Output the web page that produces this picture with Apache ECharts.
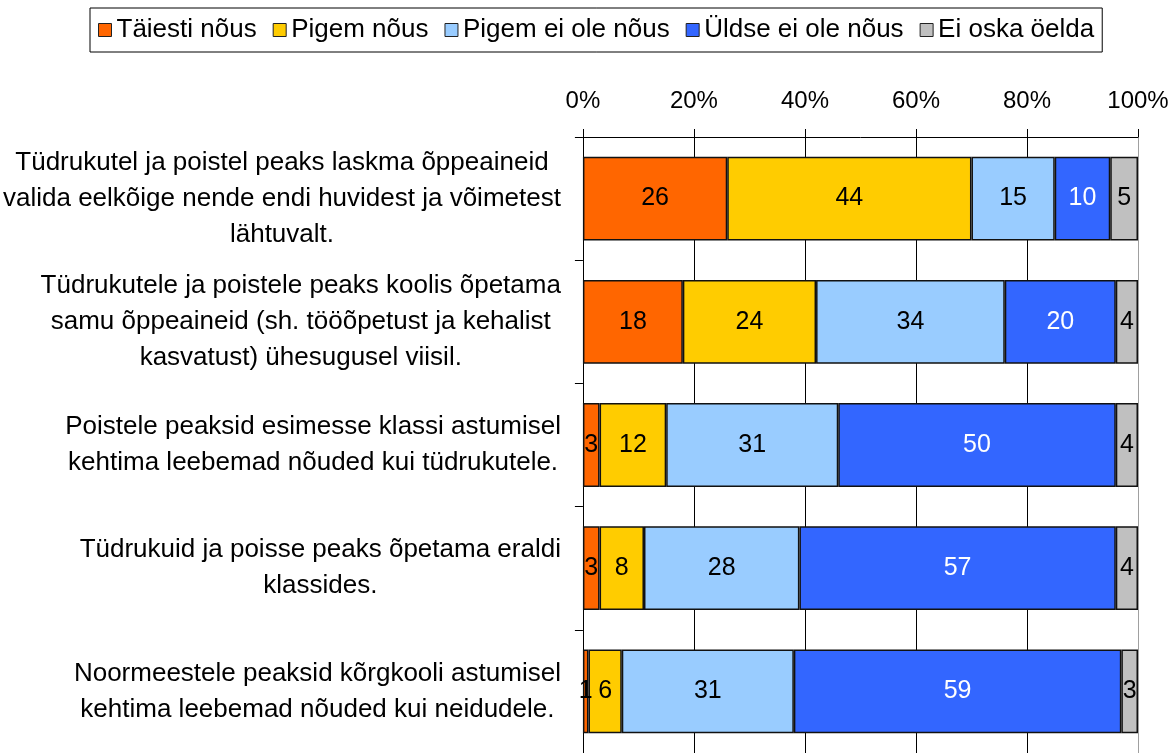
<!DOCTYPE html>
<html>
<head>
<meta charset="utf-8">
<script src="https://cdn.jsdelivr.net/npm/echarts@6/dist/echarts.min.js"></script>
<style>
  html, body { margin: 0; padding: 0; background: #fff; }
  #chart { width: 1172px; height: 753px; }
</style>
</head>
<body>
<div id="chart"></div>
<script>
const categories = [
  'Tüdrukutel ja poistel peaks laskma õppeaineid\nvalida eelkõige nende endi huvidest ja võimetest\nlähtuvalt.',
  'Tüdrukutele ja poistele peaks koolis õpetama\nsamu õppeaineid (sh. tööõpetust ja kehalist\nkasvatust) ühesugusel viisil.',
  'Poistele peaksid esimesse klassi astumisel\nkehtima leebemad nõuded kui tüdrukutele.',
  'Tüdrukuid ja poisse peaks õpetama eraldi\nklassides.',
  'Noormeestele peaksid kõrgkooli astumisel\nkehtima leebemad nõuded kui neidudele.'
];
const seriesNames = ['Täiesti nõus', 'Pigem nõus', 'Pigem ei ole nõus', 'Üldse ei ole nõus', 'Ei oska öelda'];
const colors = ['#FF6600', '#FFCC00', '#99CCFF', '#3366FF', '#C0C0C0'];
const taiestiNous = [26, 18, 3, 3, 1];
const pigemNous = [44, 24, 12, 8, 6];
const pigemEiOleNous = [15, 34, 31, 28, 31];
const uldseEiOleNous = [10, 20, 50, 57, 59];
const eiOskaOelda = [5, 4, 4, 4, 3];
const xTicks = [0, 20, 40, 60, 80, 100];

const values = [taiestiNous, pigemNous, pigemEiOleNous, uldseEiOleNous, eiOskaOelda];
const font = 'Liberation Sans, Arial, sans-serif';

const chart = echarts.init(document.getElementById('chart'));
chart.setOption({
  animation: false,
  textStyle: { fontFamily: font },
  color: colors,
  legend: {
    top: 8,
    left: 90,
    padding: [9, 8],
    itemGap: 16,
    itemWidth: 13,
    itemHeight: 13,
    icon: 'rect',
    borderColor: '#000',
    borderWidth: 1,
    itemStyle: { borderColor: '#222', borderWidth: 1 },
    textStyle: { fontSize: 26, color: '#000', fontFamily: font },
    data: seriesNames
  },
  grid: { left: 582, width: 556, top: 137, height: 621 },
  xAxis: {
    type: 'value',
    position: 'top',
    min: xTicks[0],
    max: xTicks[xTicks.length - 1],
    interval: 20,
    axisLine: { show: true, lineStyle: { color: '#000', width: 1 } },
    axisTick: { show: true, length: 8, lineStyle: { color: '#000' } },
    axisLabel: { formatter: '{value}%', fontSize: 24, color: '#000', margin: 24 },
    splitLine: {
      show: true,
      lineStyle: { color: ['#000', '#000', '#000', '#000', '#000', '#a0a0a0'], width: 1 }
    }
  },
  yAxis: {
    type: 'category',
    inverse: true,
    data: categories,
    axisLine: { show: true, lineStyle: { color: '#000', width: 1 } },
    axisTick: { show: true, length: 8, lineStyle: { color: '#000' } },
    axisLabel: {
      margin: 22,
      color: '#000',
      formatter: v => v.split('\n').map(s => '{c|' + s + '}').join('\n'),
      rich: { c: { align: 'center', fontSize: 26, lineHeight: 36, color: '#000', fontFamily: font } }
    }
  },
  series: seriesNames.map((name, i) => ({
    name: name,
    type: 'bar',
    stack: 'total',
    barWidth: '68%',
    data: values[i],
    itemStyle: { color: colors[i], borderColor: '#111', borderWidth: 1.5 },
    label: {
      show: true,
      position: 'inside',
      fontSize: 25,
      color: i === 3 ? '#fff' : '#000',
      fontFamily: font
    }
  }))
});
</script>
</body>
</html>
